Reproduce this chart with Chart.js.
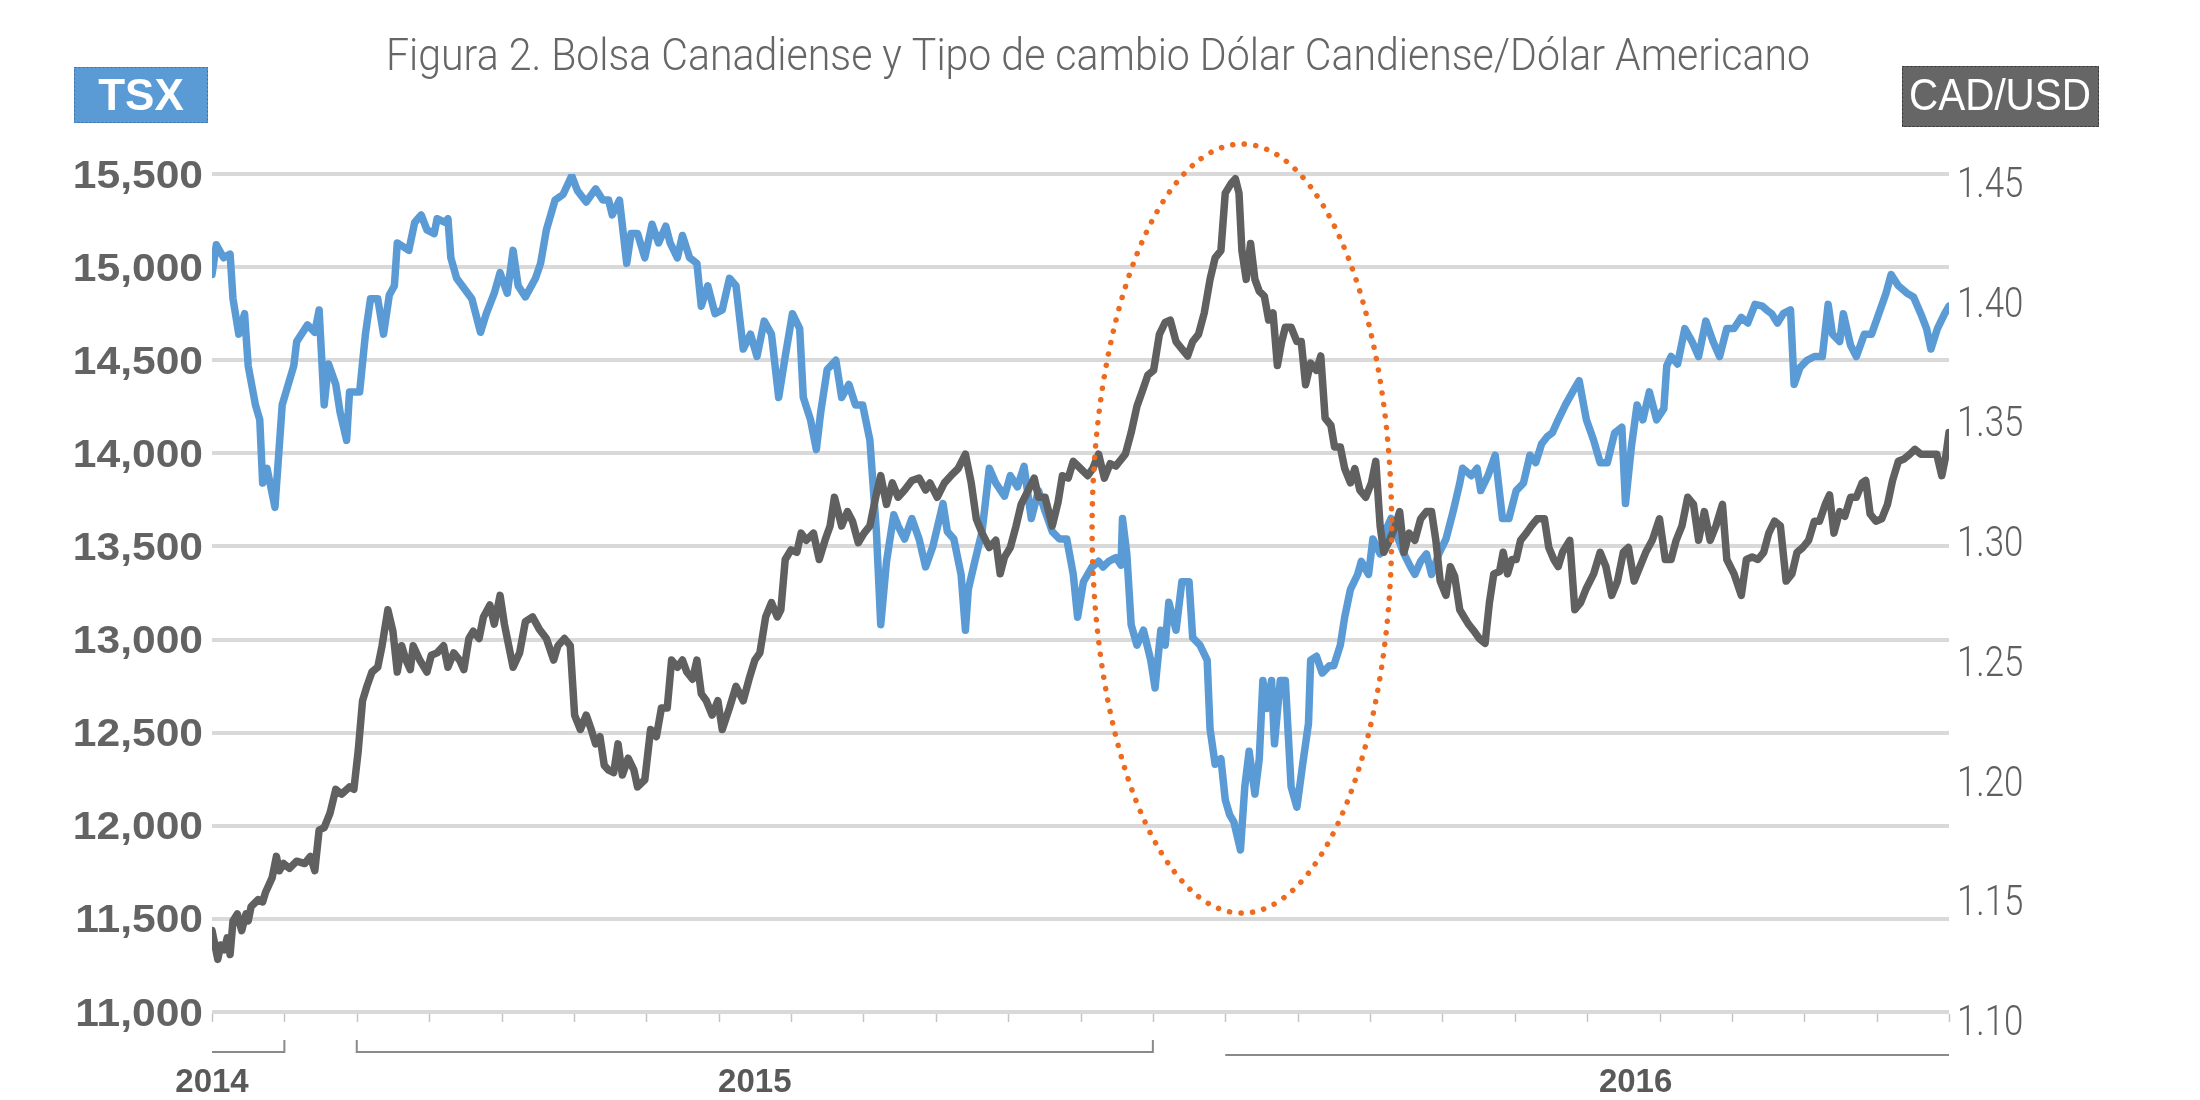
<!DOCTYPE html>
<html>
<head>
<meta charset="utf-8">
<title>Figura 2</title>
<script src="https://cdn.jsdelivr.net/npm/chart.js@4.4.1/dist/chart.umd.min.js"></script>
<style>
  html, body { margin: 0; padding: 0; background: #fff; }
  #wrap { width: 2200px; height: 1100px; }
</style>
</head>
<body>
<div id="wrap"><canvas id="chart" width="2200" height="1100"></canvas></div>
<script>
// months counted from the left edge of the axis (24 monthly ticks)
var tsxMonth = [
  0,0.06,0.16,0.25,0.29,0.37,0.45,0.50,0.60,0.66,
  0.70,0.76,0.87,0.97,1.13,1.17,1.32,1.42,1.48,1.55,
  1.61,1.71,1.77,1.86,1.90,2.04,2.12,2.19,2.29,2.37,
  2.45,2.52,2.56,2.64,2.72,2.80,2.89,2.97,3.07,3.11,
  3.22,3.26,3.30,3.38,3.59,3.71,3.79,3.90,3.98,4.08,
  4.16,4.23,4.33,4.47,4.54,4.62,4.74,4.85,4.97,5.05,
  5.17,5.30,5.40,5.48,5.53,5.63,5.73,5.79,5.88,5.98,
  6.08,6.17,6.27,6.33,6.43,6.50,6.60,6.70,6.76,6.85,
  6.95,7.05,7.15,7.24,7.34,7.44,7.53,7.63,7.73,7.83,
  7.92,8.02,8.12,8.17,8.27,8.35,8.41,8.50,8.62,8.70,
  8.80,8.89,8.99,9.09,9.18,9.24,9.32,9.42,9.48,9.57,
  9.67,9.77,9.86,9.96,10.10,10.16,10.25,10.35,10.41,10.45,
  10.54,10.64,10.74,10.83,10.95,11.03,11.13,11.22,11.32,11.42,
  11.51,11.61,11.71,11.81,11.90,11.96,12.04,12.16,12.25,12.31,
  12.39,12.49,12.56,12.58,12.64,12.70,12.78,12.87,12.97,13.03,
  13.11,13.17,13.22,13.32,13.40,13.50,13.55,13.65,13.75,13.79,
  13.86,13.94,14.00,14.06,14.12,14.21,14.27,14.33,14.41,14.47,
  14.52,14.58,14.64,14.68,14.76,14.83,14.91,14.99,15.07,15.15,
  15.18,15.26,15.34,15.44,15.50,15.59,15.65,15.73,15.83,15.88,
  15.98,16.04,16.14,16.21,16.29,16.37,16.47,16.56,16.62,16.70,
  16.78,16.85,16.95,17.05,17.15,17.24,17.28,17.40,17.48,17.53,
  17.63,17.73,17.83,17.92,18.02,18.12,18.21,18.29,18.37,18.45,
  18.52,18.60,18.70,18.80,18.89,18.99,19.09,19.18,19.28,19.38,
  19.48,19.53,19.61,19.69,19.77,19.86,19.96,20.06,20.10,20.16,
  20.25,20.35,20.45,20.54,20.64,20.74,20.83,20.93,21.03,21.13,
  21.22,21.32,21.42,21.48,21.55,21.63,21.71,21.81,21.86,21.94,
  22.04,22.14,22.25,22.33,22.39,22.49,22.54,22.64,22.72,22.83,
  22.93,23.03,23.13,23.20,23.30,23.42,23.51,23.61,23.69,23.75,
  23.84,23.94,24.00
];
var tsxValue = [
  14960,15120,15050,15070,14830,14640,14750,14470,14260,14180,
  13840,13920,13710,14260,14470,14600,14690,14650,14770,14260,
  14480,14370,14220,14070,14330,14330,14640,14830,14830,14640,
  14850,14900,15130,15110,15090,15240,15280,15200,15180,15260,
  15240,15260,15050,14940,14830,14650,14750,14860,14970,14860,
  15090,14900,14840,14940,15020,15200,15360,15390,15490,15410,
  15350,15420,15360,15360,15280,15360,15020,15180,15180,15050,
  15230,15130,15220,15130,15050,15170,15050,15020,14790,14900,
  14750,14770,14940,14900,14560,14640,14520,14710,14640,14300,
  14520,14750,14670,14300,14180,14020,14220,14450,14500,14300,
  14370,14260,14260,14070,13580,13080,13420,13670,13610,13540,
  13650,13540,13390,13500,13730,13580,13540,13350,13050,13270,
  13420,13580,13920,13840,13770,13880,13820,13930,13650,13800,
  13690,13580,13540,13540,13350,13120,13310,13390,13420,13390,
  13420,13440,13400,13650,13460,13080,12970,13050,12890,12740,
  13050,12970,13200,13050,13310,13310,13010,12970,12890,12520,
  12330,12360,12140,12060,12020,11870,12210,12400,12170,12360,
  12780,12630,12780,12440,12780,12780,12210,12100,12330,12550,
  12890,12910,12820,12860,12860,12970,13120,13270,13350,13420,
  13350,13540,13460,13580,13650,13560,13460,13390,13350,13420,
  13460,13350,13460,13540,13690,13840,13920,13880,13920,13800,
  13880,13990,13650,13650,13800,13840,13990,13950,14050,14090,
  14110,14180,14260,14330,14390,14180,14070,13950,13950,14110,
  14140,13730,14030,14260,14180,14330,14180,14240,14470,14520,
  14480,14670,14600,14520,14710,14600,14520,14670,14670,14730,
  14700,14800,14790,14770,14750,14700,14750,14770,14370,14460,
  14500,14520,14520,14800,14640,14600,14750,14580,14520,14640,
  14640,14750,14860,14960,14900,14860,14840,14750,14670,14560,
  14670,14750,14790
];

var cadMonth = [
  0,0.04,0.08,0.12,0.17,0.21,0.25,0.29,0.35,0.41,
  0.47,0.50,0.54,0.64,0.70,0.74,0.83,0.89,0.93,0.99,
  1.07,1.17,1.28,1.36,1.42,1.48,1.55,1.63,1.71,1.79,
  1.90,1.96,2.02,2.08,2.14,2.21,2.29,2.35,2.43,2.50,
  2.56,2.62,2.68,2.74,2.78,2.87,2.97,3.03,3.11,3.20,
  3.26,3.34,3.42,3.48,3.55,3.61,3.69,3.75,3.84,3.90,
  3.98,4.04,4.10,4.16,4.25,4.33,4.43,4.52,4.62,4.72,
  4.78,4.87,4.95,5.01,5.09,5.17,5.24,5.30,5.36,5.42,
  5.48,5.55,5.61,5.67,5.75,5.83,5.88,5.98,6.06,6.14,
  6.21,6.29,6.35,6.43,6.50,6.56,6.64,6.70,6.76,6.83,
  6.91,6.99,7.05,7.15,7.24,7.34,7.42,7.50,7.57,7.65,
  7.73,7.81,7.86,7.92,8.00,8.08,8.14,8.21,8.31,8.39,
  8.47,8.54,8.60,8.70,8.78,8.85,8.93,9.01,9.09,9.17,
  9.24,9.32,9.40,9.48,9.57,9.67,9.77,9.86,9.92,10.02,
  10.12,10.21,10.31,10.41,10.49,10.56,10.64,10.74,10.83,10.89,
  10.95,11.03,11.11,11.18,11.28,11.36,11.42,11.51,11.61,11.69,
  11.75,11.83,11.90,12.00,12.10,12.17,12.25,12.33,12.41,12.49,
  12.54,12.62,12.70,12.78,12.85,12.93,13.01,13.09,13.17,13.24,
  13.32,13.40,13.48,13.55,13.63,13.71,13.79,13.86,13.94,14.00,
  14.08,14.14,14.19,14.23,14.29,14.35,14.41,14.47,14.54,14.60,
  14.66,14.72,14.78,14.83,14.91,14.99,15.05,15.11,15.18,15.26,
  15.32,15.38,15.46,15.51,15.59,15.65,15.73,15.79,15.86,15.94,
  16.02,16.08,16.14,16.19,16.27,16.35,16.41,16.47,16.54,16.62,
  16.70,16.78,16.85,16.91,16.97,17.05,17.11,17.17,17.24,17.30,
  17.36,17.44,17.51,17.59,17.65,17.71,17.79,17.84,17.90,17.96,
  18.02,18.08,18.16,18.23,18.31,18.41,18.47,18.54,18.60,18.66,
  18.76,18.83,18.91,18.99,19.09,19.18,19.26,19.34,19.42,19.50,
  19.57,19.65,19.73,19.81,19.90,20.00,20.08,20.16,20.23,20.31,
  20.39,20.47,20.54,20.62,20.70,20.78,20.87,20.93,21.03,21.13,
  21.20,21.28,21.36,21.44,21.51,21.59,21.67,21.75,21.83,21.90,
  21.98,22.06,22.14,22.21,22.29,22.35,22.41,22.49,22.56,22.64,
  22.72,22.80,22.85,22.91,22.99,23.07,23.15,23.22,23.30,23.38,
  23.46,23.53,23.61,23.69,23.75,23.83,23.90,23.96,24.00
];
var cadValue = [
  1.134,1.128,1.122,1.128,1.126,1.131,1.124,1.138,1.141,1.134,
  1.141,1.138,1.144,1.147,1.146,1.150,1.156,1.165,1.159,1.162,
  1.160,1.163,1.162,1.165,1.159,1.176,1.177,1.183,1.193,1.191,
  1.194,1.193,1.209,1.230,1.236,1.242,1.244,1.253,1.268,1.259,
  1.242,1.253,1.247,1.243,1.253,1.247,1.242,1.249,1.250,1.253,
  1.244,1.250,1.247,1.243,1.256,1.259,1.256,1.265,1.270,1.262,
  1.274,1.262,1.253,1.244,1.250,1.263,1.265,1.260,1.256,1.247,
  1.253,1.256,1.253,1.224,1.218,1.224,1.218,1.212,1.215,1.203,
  1.201,1.200,1.212,1.199,1.206,1.201,1.194,1.197,1.218,1.215,
  1.227,1.227,1.247,1.244,1.247,1.242,1.239,1.247,1.233,1.230,
  1.224,1.230,1.218,1.227,1.236,1.230,1.239,1.247,1.250,1.265,
  1.271,1.265,1.268,1.289,1.293,1.292,1.300,1.297,1.300,1.289,
  1.297,1.303,1.315,1.303,1.309,1.305,1.296,1.300,1.303,1.315,
  1.324,1.312,1.321,1.315,1.318,1.322,1.323,1.318,1.321,1.315,
  1.321,1.324,1.327,1.333,1.321,1.306,1.300,1.294,1.297,1.283,
  1.290,1.294,1.303,1.312,1.318,1.323,1.315,1.315,1.303,1.313,
  1.324,1.323,1.330,1.327,1.324,1.327,1.333,1.323,1.329,1.328,
  1.330,1.333,1.342,1.353,1.359,1.366,1.368,1.383,1.388,1.389,
  1.380,1.377,1.374,1.380,1.383,1.392,1.406,1.415,1.418,1.442,
  1.446,1.448,1.442,1.418,1.406,1.421,1.406,1.401,1.399,1.389,
  1.392,1.370,1.380,1.386,1.386,1.380,1.380,1.362,1.371,1.368,
  1.374,1.348,1.345,1.336,1.336,1.327,1.321,1.327,1.318,1.315,
  1.321,1.330,1.303,1.292,1.297,1.303,1.309,1.292,1.300,1.297,
  1.306,1.309,1.309,1.297,1.280,1.274,1.286,1.282,1.268,1.265,
  1.262,1.259,1.256,1.254,1.271,1.283,1.284,1.292,1.283,1.289,
  1.289,1.297,1.300,1.303,1.306,1.306,1.294,1.289,1.286,1.292,
  1.297,1.268,1.271,1.277,1.283,1.292,1.286,1.274,1.280,1.292,
  1.294,1.280,1.286,1.292,1.297,1.306,1.289,1.289,1.297,1.303,
  1.315,1.312,1.297,1.309,1.297,1.303,1.312,1.289,1.283,1.274,
  1.289,1.290,1.289,1.292,1.300,1.305,1.303,1.280,1.283,1.292,
  1.294,1.297,1.305,1.305,1.312,1.316,1.300,1.309,1.307,1.315,
  1.315,1.321,1.322,1.308,1.305,1.306,1.312,1.322,1.330,1.331,
  1.333,1.335,1.333,1.333,1.333,1.333,1.324,1.333,1.342
];

// year groups on the axis
var yearLabels = ['2014', '2015', '2016'];
var yearCenter = [0, 7.5, 19.67];
var yearFrom = [0, 2, 14];
var yearTo = [1, 13, 24];

// dotted ring round the Jan 2016 move (month, TSX)
var ringCenter = [14.23, 13596];
var ringRadius = [2.07, 2065];

var titleText = 'Figura 2. Bolsa Canadiense y Tipo de cambio Dólar Candiense/Dólar Americano';

function toPoints(xs, ys) {
  return xs.map(function (m, i) { return { x: m, y: ys[i] }; });
}

// draw text squeezed/stretched horizontally
function drawText(ctx, text, x, y, font, color, align, sx) {
  ctx.save();
  ctx.font = font;
  ctx.fillStyle = color;
  ctx.textAlign = 'left';
  ctx.textBaseline = 'alphabetic';
  var w = ctx.measureText(text).width * sx;
  var left = x;
  if (align === 'center') left = x - w / 2;
  if (align === 'right') left = x - w;
  ctx.translate(left, y);
  ctx.scale(sx, 1);
  ctx.fillText(text, 0, 0);
  ctx.restore();
}

function fitScale(ctx, text, font, width) {
  ctx.save();
  ctx.font = font;
  var w = ctx.measureText(text).width;
  ctx.restore();
  return width / w;
}

var decor = {
  id: 'decor',
  afterDatasetsDraw: function (chart) {
    var ctx = chart.ctx, xs = chart.scales.x, ys = chart.scales.y;
    var cx = xs.getPixelForValue(ringCenter[0]);
    var cy = ys.getPixelForValue(ringCenter[1]);
    var rx = xs.getPixelForValue(ringCenter[0] + ringRadius[0]) - cx;
    var ry = cy - ys.getPixelForValue(ringCenter[1] + ringRadius[1]);
    ctx.save();
    ctx.beginPath();
    ctx.ellipse(cx, cy, rx, ry, 0, 0, Math.PI * 2);
    ctx.strokeStyle = '#ee6a1e';
    ctx.lineWidth = 5.5;
    ctx.lineCap = 'round';
    ctx.setLineDash([0.1, 11.5]);
    ctx.stroke();
    ctx.restore();
  },
  afterDraw: function (chart) {
    var ctx = chart.ctx, xs = chart.scales.x, ys = chart.scales.y, y2 = chart.scales.y2;
    var bottom = chart.chartArea.bottom;

    // title
    var tFont = '300 45px Roboto';
    drawText(ctx, titleText, 1098, 70, tFont, '#666666', 'center', fitScale(ctx, titleText, tFont, 1424));

    // axis name boxes
    ctx.save();
    ctx.fillStyle = '#5b9bd5';
    ctx.fillRect(74, 67, 134, 56);
    ctx.fillStyle = '#666666';
    ctx.fillRect(1902, 66, 197, 61);
    ctx.setLineDash([2, 2]);
    ctx.lineWidth = 1;
    ctx.strokeStyle = '#3f6f9e';
    ctx.strokeRect(74.5, 67.5, 133, 55);
    ctx.strokeStyle = '#333333';
    ctx.strokeRect(1902.5, 66.5, 196, 60);
    ctx.restore();
    drawText(ctx, 'TSX', 141, 110, 'bold 44px "Liberation Sans"', '#ffffff', 'center', 1);
    var bFont = '44px "Liberation Sans"';
    drawText(ctx, 'CAD/USD', 2000, 110, bFont, '#ffffff', 'center', fitScale(ctx, 'CAD/USD', bFont, 182));

    // left ticks
    ys.ticks.forEach(function (t) {
      var py = ys.getPixelForValue(t.value);
      drawText(ctx, t.value.toLocaleString('en-US'), 203, py + 13.5,
        'bold 38px "Liberation Sans"', '#636363', 'right', 1.12);
    });

    // right ticks
    y2.ticks.forEach(function (t) {
      var py = y2.getPixelForValue(t.value);
      drawText(ctx, t.value.toFixed(2), 1957, py + 23, '300 42px Roboto', '#5f5f5f', 'left', 0.83);
    });

    // month tick marks under the axis
    ctx.save();
    ctx.strokeStyle = '#c4c4c4';
    ctx.lineWidth = 1.5;
    for (var m = 0; m <= 24; m++) {
      var px = Math.round(xs.getPixelForValue(m)) + 0.5;
      ctx.beginPath();
      ctx.moveTo(px, bottom + 2);
      ctx.lineTo(px, bottom + 10);
      ctx.stroke();
    }

    // year brackets
    ctx.strokeStyle = '#8a8a8a';
    ctx.lineWidth = 2;
    ctx.beginPath();
    ctx.moveTo(xs.getPixelForValue(yearFrom[0]), 1052);
    ctx.lineTo(xs.getPixelForValue(yearTo[0]), 1052);
    ctx.lineTo(xs.getPixelForValue(yearTo[0]), 1040);
    ctx.moveTo(xs.getPixelForValue(yearFrom[1]), 1040);
    ctx.lineTo(xs.getPixelForValue(yearFrom[1]), 1052);
    ctx.lineTo(xs.getPixelForValue(yearTo[1]), 1052);
    ctx.lineTo(xs.getPixelForValue(yearTo[1]), 1040);
    ctx.moveTo(xs.getPixelForValue(yearFrom[2]), 1055);
    ctx.lineTo(xs.getPixelForValue(yearTo[2]), 1055);
    ctx.stroke();
    ctx.restore();

    yearLabels.forEach(function (lab, i) {
      drawText(ctx, lab, xs.getPixelForValue(yearCenter[i]), 1092,
        'bold 33px "Liberation Sans"', '#595959', 'center', 1);
    });
  }
};

var ctx = document.getElementById('chart').getContext('2d');
var chart = new Chart(ctx, {
  type: 'line',
  data: {
    datasets: [{
      label: 'CAD/USD',
      data: toPoints(cadMonth, cadValue),
      yAxisID: 'y2',
      borderColor: '#606060',
      borderWidth: 7.5,
      pointRadius: 0,
      tension: 0,
      borderJoinStyle: 'round',
      borderCapStyle: 'round'
    }, {
      label: 'TSX',
      data: toPoints(tsxMonth, tsxValue),
      yAxisID: 'y',
      borderColor: '#5b9bd5',
      borderWidth: 7.5,
      pointRadius: 0,
      tension: 0,
      borderJoinStyle: 'round',
      borderCapStyle: 'round'
    }]
  },
  options: {
    responsive: false,
    animation: false,
    devicePixelRatio: 1,
    layout: { padding: { top: 174, bottom: 88, left: 0, right: 0 } },
    plugins: { legend: { display: false }, tooltip: { enabled: false } },
    scales: {
      x: { type: 'linear', min: 0, max: 24, display: false },
      y: {
        position: 'left', min: 11000, max: 15500,
        ticks: { stepSize: 500, display: false },
        grid: { color: '#d9d9d9', lineWidth: 4, drawTicks: false },
        border: { display: false },
        afterFit: function (s) { s.width = 212; }
      },
      y2: {
        position: 'right', min: 1.10, max: 1.45,
        ticks: { stepSize: 0.05, display: false },
        grid: { display: false },
        border: { display: false },
        afterFit: function (s) { s.width = 251; }
      }
    }
  },
  plugins: [decor]
});
</script>
</body>
</html>
